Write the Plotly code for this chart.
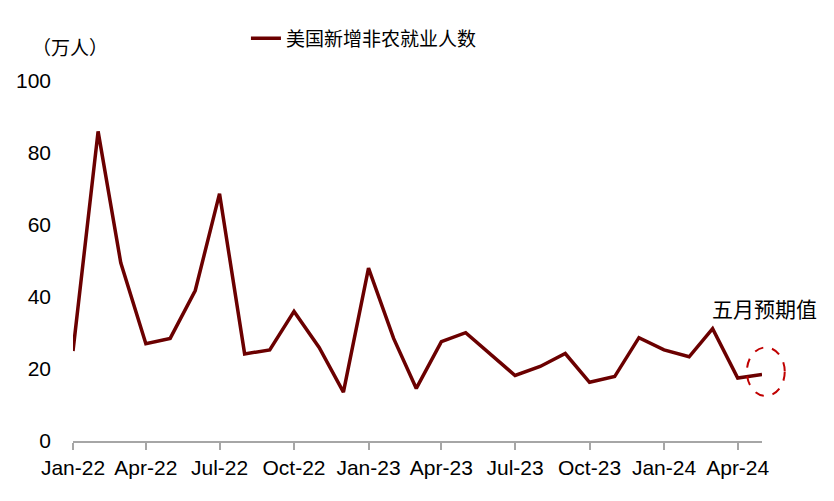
import pandas as pd
import plotly.graph_objects as go

months = pd.date_range("2022-01-01", "2024-05-01", freq="MS")
payrolls = [25, 86, 49.5, 27, 28.5, 41.8, 68.7, 24.2, 25.3, 36, 26, 13.6,
            48, 28.5, 14.6, 27.6, 30.1, 24, 18.2, 20.7, 24.3, 16.3, 17.9,
            28.7, 25.3, 23.4, 31.2, 17.5, 18.5]

tick_vals = pd.date_range("2022-01-01", "2024-04-01", freq="3MS")

lineColor = '#6B0000'
font_en = "Liberation Sans, Arial"
font_cn = "Noto Sans CJK SC, Liberation Sans"

fig = go.Figure()
fig.add_trace(
    go.Scatter(x=months, y=payrolls, mode="lines", name="美国新增非农就业人数",
               line=dict(color=lineColor, width=3.5))
)

# dashed ellipse round the May forecast (paper ref so it is not clipped)
fig.add_shape(type="circle", xref="paper", yref="paper",
              x0=0.978, x1=1.033, y0=0.125, y1=0.26,
              line=dict(color="#C00000", width=2, dash="dash"))

fig.add_annotation(x=1.003, y=0.369, xref="paper", yref="paper", text="五月预期值",
                   showarrow=False, xanchor="center", yanchor="middle",
                   font=dict(family=font_cn, size=21, color="black"))
fig.add_annotation(x=-0.063, y=1.096, xref="paper", yref="paper", text="（万人）",
                   showarrow=False, xanchor="left", yanchor="middle",
                   font=dict(family=font_cn, size=19, color="black"))

fig.update_layout(
    width=834, height=501,
    margin=dict(l=65, r=80, t=70, b=68),
    plot_bgcolor="white", paper_bgcolor="white",
    showlegend=True,
    legend=dict(orientation="h", x=0.251, y=1.118, xref="paper", yref="paper",
                xanchor="left", yanchor="middle",
                font=dict(family=font_cn, size=19, color="black"),
                bgcolor="rgba(0,0,0,0)"),
    xaxis=dict(range=[months[0], months[-1]], tickvals=tick_vals, tickformat="%b-%y",
               showgrid=False, showline=True, linecolor="#A6A6A6", linewidth=1.5,
               ticks="outside", tickcolor="#A6A6A6", ticklen=7, tickwidth=1.5,
               automargin=False,
               tickfont=dict(family=font_en, size=21, color="black")),
    yaxis=dict(range=[0, 100], dtick=20, showgrid=False, showline=False, zeroline=False,
               ticks="", ticklabelstandoff=21, automargin=False,
               tickfont=dict(family=font_en, size=21, color="black")),
)

fig.write_html("out.html")
